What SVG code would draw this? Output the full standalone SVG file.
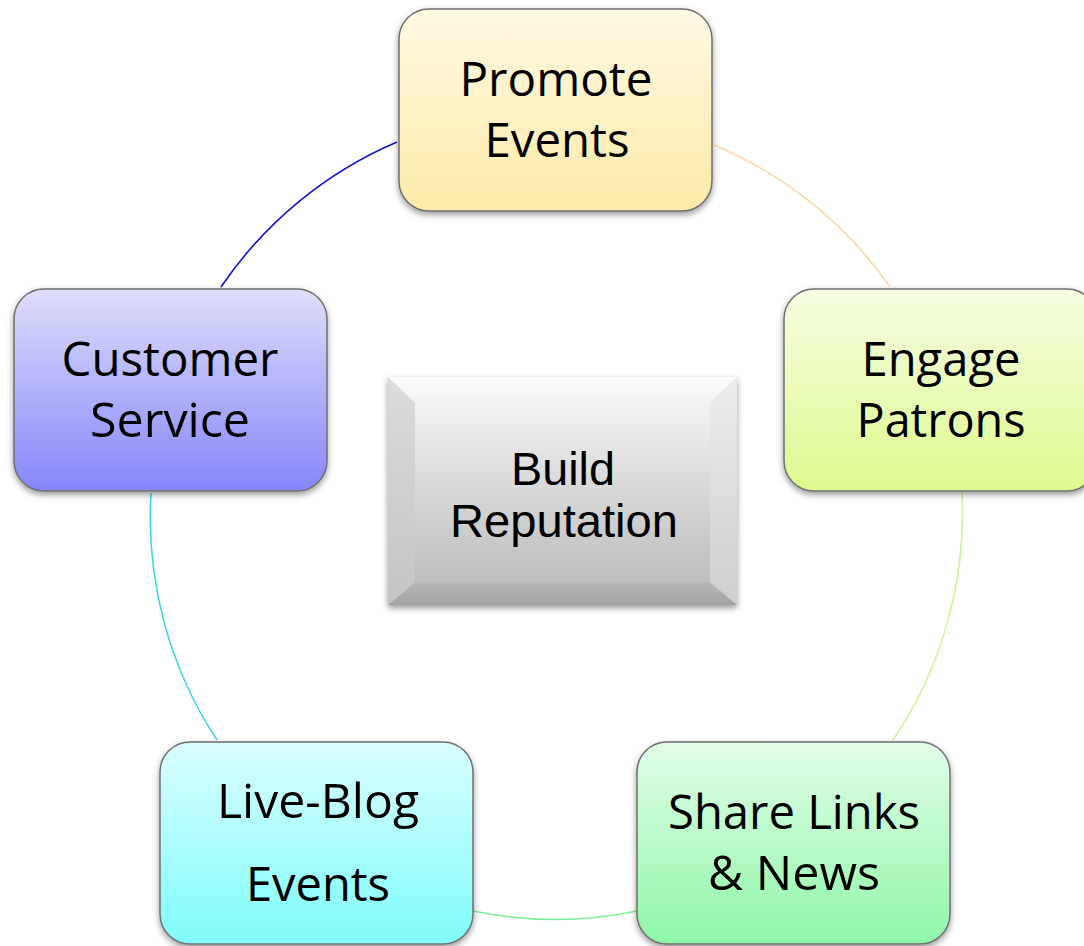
<svg xmlns="http://www.w3.org/2000/svg" width="1084" height="946" viewBox="0 0 1084 946">
<style>
.node rect{stroke:#6f6f6f;stroke-width:1.5;filter:url(#sh)}
.lbl{font-family:"Open Sans","Liberation Sans",sans-serif;font-size:48px;fill:#000;text-anchor:middle}
.ctr{font-family:"Liberation Sans",Arial,sans-serif;font-size:46px;fill:#000;text-anchor:middle}
.arc{fill:none;stroke-width:1.6}
</style>
<defs>
<filter id="sh" x="-10%" y="-10%" width="120%" height="125%">
<feDropShadow dx="0" dy="3" stdDeviation="3" flood-color="#000" flood-opacity="0.4"/>
</filter>
<linearGradient id="gY" x1="0" y1="0" x2="0" y2="1"><stop offset="0" stop-color="#fff9e3"/><stop offset="1" stop-color="#fdeaa8"/></linearGradient>
<linearGradient id="gB" x1="0" y1="0" x2="0" y2="1"><stop offset="0" stop-color="#dedefb"/><stop offset="1" stop-color="#8585f9"/></linearGradient>
<linearGradient id="gL" x1="0" y1="0" x2="0" y2="1"><stop offset="0" stop-color="#f6fde2"/><stop offset="1" stop-color="#ddfa8e"/></linearGradient>
<linearGradient id="gC" x1="0" y1="0" x2="0" y2="1"><stop offset="0" stop-color="#dafefe"/><stop offset="1" stop-color="#80fcfc"/></linearGradient>
<linearGradient id="gG" x1="0" y1="0" x2="0" y2="1"><stop offset="0" stop-color="#e2fde8"/><stop offset="1" stop-color="#8ff7a8"/></linearGradient>
<linearGradient id="gFace" x1="0" y1="0" x2="0" y2="1"><stop offset="0" stop-color="#f2f2f2"/><stop offset="1" stop-color="#bdbdbd"/></linearGradient>
<linearGradient id="gTop" x1="0" y1="0" x2="0" y2="1"><stop offset="0" stop-color="#fdfdfd"/><stop offset="1" stop-color="#f2f2f2"/></linearGradient>
<linearGradient id="gBot" x1="0" y1="0" x2="0" y2="1"><stop offset="0" stop-color="#b8b8b8"/><stop offset="1" stop-color="#a2a2a2"/></linearGradient>
<linearGradient id="gLeft" x1="0" y1="0" x2="0" y2="1"><stop offset="0" stop-color="#dcdcdc"/><stop offset="1" stop-color="#c4c4c4"/></linearGradient>
<linearGradient id="gRight" x1="0" y1="0" x2="0" y2="1"><stop offset="0" stop-color="#ececec"/><stop offset="1" stop-color="#cfcfcf"/></linearGradient>
</defs>
<rect width="1084" height="946" fill="#fff"/>
<g id="connectors">
<path class="arc" stroke="#fcd9a8" d="M714,145 A405,405 0 0 1 890,287"/>
<path class="arc" stroke="#cff59a" d="M962,493 A405,405 0 0 1 893,740"/>
<path class="arc" stroke="#7dee98" d="M637,911 A405,405 0 0 1 473,911"/>
<path class="arc" stroke="#3fd6ea" d="M217,740 A405,405 0 0 1 151,493"/>
<path class="arc" stroke="#1414d0" d="M221,287 A405,405 0 0 1 397,142"/>
</g>
<g id="center">
<g filter="url(#sh)">
<rect x="388" y="377" width="349" height="228" fill="url(#gFace)"/>
</g>
<polygon points="388,377 737,377 710,403 415,403" fill="url(#gTop)"/>
<polygon points="388,605 737,605 710,582 415,582" fill="url(#gBot)"/>
<polygon points="388,377 415,403 415,582 388,605" fill="url(#gLeft)"/>
<polygon points="737,377 710,403 710,582 737,605" fill="url(#gRight)"/>
<rect x="415" y="403" width="295" height="179" fill="url(#gFace)"/>
<text class="ctr" x="563" y="485" textLength="104" lengthAdjust="spacingAndGlyphs">Build</text>
<text class="ctr" x="564" y="537" textLength="228" lengthAdjust="spacingAndGlyphs">Reputation</text>
</g>
<g id="promote" class="node">
<rect x="399" y="9" width="313" height="202" rx="30" fill="url(#gY)"/>
<text class="lbl" x="556" y="96" textLength="193" lengthAdjust="spacingAndGlyphs">Promote</text>
<text class="lbl" x="557" y="157" textLength="145" lengthAdjust="spacingAndGlyphs">Events</text>
</g>
<g id="customer" class="node">
<rect x="14" y="289" width="313" height="202" rx="30" fill="url(#gB)"/>
<text class="lbl" x="170" y="376" textLength="217" lengthAdjust="spacingAndGlyphs">Customer</text>
<text class="lbl" x="170" y="437" textLength="160" lengthAdjust="spacingAndGlyphs">Service</text>
</g>
<g id="engage" class="node">
<rect x="784" y="289" width="313" height="202" rx="30" fill="url(#gL)"/>
<text class="lbl" x="941" y="376" textLength="159" lengthAdjust="spacingAndGlyphs">Engage</text>
<text class="lbl" x="941" y="437" textLength="169" lengthAdjust="spacingAndGlyphs">Patrons</text>
</g>
<g id="liveblog" class="node">
<rect x="160" y="742" width="313" height="202" rx="30" fill="url(#gC)"/>
<text class="lbl" x="318" y="818" textLength="202" lengthAdjust="spacingAndGlyphs">Live-Blog</text>
<text class="lbl" x="318" y="901" textLength="144" lengthAdjust="spacingAndGlyphs">Events</text>
</g>
<g id="share" class="node">
<rect x="637" y="742" width="313" height="202" rx="30" fill="url(#gG)"/>
<text class="lbl" x="794" y="829" textLength="252" lengthAdjust="spacingAndGlyphs">Share Links</text>
<text class="lbl" x="794" y="890" textLength="172" lengthAdjust="spacingAndGlyphs">&amp; News</text>
</g>
</svg>
